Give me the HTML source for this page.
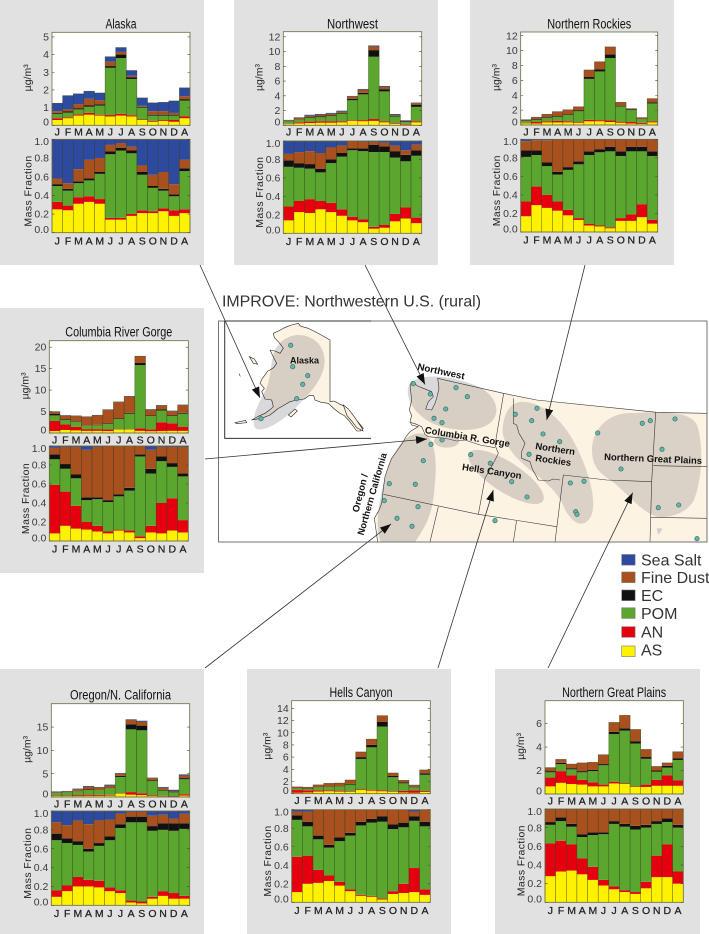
<!DOCTYPE html>
<html lang="en">
<head>
<meta charset="utf-8">
<title>IMPROVE: Northwestern U.S. (rural)</title>
<style>
html,body{margin:0;padding:0;background:#fff;width:709px;height:934px;overflow:hidden}
svg{display:block}
text{font-family:"Liberation Sans",sans-serif}
.m{font-weight:bold;font-size:9.5px;fill:#111}
.lg{font-size:16px;fill:#333}
</style>
</head>
<body>
<svg id="fig" xmlns="http://www.w3.org/2000/svg" width="709" height="934" viewBox="0 0 709 934">
<defs>
<marker id="ah" markerUnits="userSpaceOnUse" markerWidth="12" markerHeight="9" refX="11" refY="4" orient="auto"><path d="M0,0 L11,4 L0,8 Z" fill="#111"/></marker>
</defs>
<g id="panels"></g>

<text x="222" y="306.5" font-size="16" fill="#333" textLength="259" lengthAdjust="spacingAndGlyphs">IMPROVE: Northwestern U.S. (rural)</text>

<g>
<rect x="218.5" y="321" width="488.5" height="221" fill="#fff"/>
<g transform="translate(215 285) scale(.33333)">
<path fill="#fdf3e2" d="M668,280 L865,325 L965,345 L1325,382 L1475,385 L1475,771 L488,771 L483,735 L478,700 L490,680 L500,655 L503,630 L505,610 L510,575 L520,545 L530,520 L548,495 L565,470 L575,452 L585,440 L610,425 L590,420 L585,410 L590,392 L583,375 L590,345 L585,300 L590,290 L608,303 L625,310 L650,320 L655,335 L640,350 L632,372 L650,375 L660,355 L665,340 L672,310 Z"/>
<path fill="none" stroke="#333" stroke-width="1.8" stroke-linejoin="round" d="M488,771 L483,735 L478,700 L490,680 L500,655 L503,630 L505,610 L510,575 L520,545 L530,520 L548,495 L565,470 L575,452 L585,440 L610,425 L590,420 L585,410 L590,392 L583,375 L590,345 L585,300 L590,290 L608,303 L625,310 L650,320 L655,335 L640,350 L632,372 L650,375 L660,355 L665,340 L672,310 L668,280 L865,325 L965,345 L1325,382 L1475,385"/>
<path fill="#fdf3e2" stroke="#222" stroke-width="1.8" stroke-linejoin="round" d="M175,145 L190,138 L205,130 L218,124 L230,120 L250,115 L255,122 L262,125 L280,130 L300,140 L322,152 L345,165 L345,350 L356,348 L365,352 L375,358 L385,362 L398,378 L415,395 L430,412 L445,430 L436,438 L425,438 L412,420 L400,405 L388,392 L375,385 L358,372 L340,355 L318,352 L300,345 L296,332 L282,332 L268,342 L245,345 L225,350 L205,362 L190,370 L178,380 L165,390 L140,400 L110,405 L130,394 L150,385 L165,374 L175,365 L170,345 L150,342 L140,320 L148,310 L135,295 L142,280 L150,270 L158,258 L165,255 L176,248 L185,235 L178,222 L165,195 L180,198 L195,205 L205,190 L198,180 L190,170 L178,158 Z"/>
<path fill="#fdf3e2" stroke="#222" stroke-width="1.8" d="M103,215 L118,222 L128,238 L115,235 Z M72,266 L76,274 M60,413 L92,406 L95,413 L65,416 Z M220,390 L240,372 L247,378 L228,396 Z M385,360 L400,372 L420,398 L440,428 L444,438 L425,428 L410,408 L396,392 Z"/>
<g fill="#1e1e32" fill-opacity=".17">
<path d="M250,150 C300,150 335,190 328,240 C320,290 280,330 240,370 C200,410 150,440 125,432 C105,420 120,370 150,320 C170,280 165,230 180,195 C195,165 225,150 250,150 Z"/>
<path d="M600,285 C640,265 720,275 790,305 C840,330 860,375 830,410 C800,440 730,440 680,425 C640,415 600,385 585,350 C572,320 578,295 600,285 Z"/>
<path d="M615,445 C655,445 668,510 660,590 C655,660 650,700 600,771 L497,771 C480,720 490,660 505,600 C520,530 555,445 615,445 Z"/>
<ellipse cx="695" cy="468" rx="38" ry="20"/>
<ellipse cx="873" cy="576" rx="132" ry="45" transform="rotate(33 873 576)"/>
</g>
<path fill="none" stroke="#3a3a3a" stroke-width="1.8" stroke-linejoin="round" d="M866,325 L840,480 L850,505 L835,535 L810,580 L790,688 M585,412 L600,416 L620,425 L630,448 L640,455 L670,458 L700,462 L725,468 L750,465 L795,480 L840,488 M505,628 L790,688 L1025,725 M670,665 L645,771 M905,705 L895,771 M895,340 L895,415 L905,420 L912,445 L930,475 L920,500 L920,520 L945,530 L952,552 L970,585 L1000,588 L1015,582 L1035,585 M1045,570 L1020,771 M1045,570 L1175,585 L1310,590 M1322,383 L1310,590 L1305,771 M1315,542 L1475,545 M1307,697 L1475,700"/>
<path d="M1325,730 L1343,730 L1330,750 Z" fill="#cfcfd0"/>
</g>
<g transform="translate(0 0)" fill="#1e1e32" fill-opacity=".15">
<path d="M520,402 C540,400 565,420 578,450 C590,475 598,505 590,518 C582,530 570,522 563,505 C556,490 545,482 530,470 C512,455 500,440 503,425 C505,410 512,403 520,402 Z"/>
<path d="M592,450 C592,428 610,412 632,413 C660,412 690,410 697,425 C704,445 702,480 694,500 C688,512 672,518 658,517 C640,512 625,490 610,480 C598,472 592,465 592,450 Z"/>
</g>
<g id="sites"></g>
<rect x="218.5" y="321" width="488.5" height="221" fill="none" stroke="#666" stroke-width=".9"/>
<path d="M371,321 L224.7,321 L224.7,438.4 L371,438.4" fill="none" stroke="#333" stroke-width="1"/>
<text class="m" x="290" y="363.5" textLength="29" lengthAdjust="spacingAndGlyphs">Alaska</text>
<text class="m" transform="translate(417 369.5) rotate(12)" textLength="48" lengthAdjust="spacingAndGlyphs">Northwest</text>
<text class="m" transform="translate(424.5 433) rotate(9.4)" textLength="86" lengthAdjust="spacingAndGlyphs">Columbia R. Gorge</text>
<text class="m" transform="translate(461.7 470) rotate(8.6)" textLength="60" lengthAdjust="spacingAndGlyphs">Hells Canyon</text>
<text class="m" transform="translate(358.5 512.7) rotate(-76)" textLength="39" lengthAdjust="spacingAndGlyphs">Oregon /</text>
<text class="m" transform="translate(363.5 535.7) rotate(-74)" textLength="85" lengthAdjust="spacingAndGlyphs">Northern California</text>
<text class="m" transform="translate(535 449) rotate(8.7)" textLength="40" lengthAdjust="spacingAndGlyphs">Northern</text>
<text class="m" transform="translate(535 461) rotate(8)" textLength="36" lengthAdjust="spacingAndGlyphs">Rockies</text>
<text class="m" transform="translate(604 460) rotate(2.3)" textLength="98" lengthAdjust="spacingAndGlyphs">Northern Great Plains</text>
</g>

<g stroke="#333" stroke-width=".8" fill="none">
<line x1="200" y1="265" x2="260" y2="398" marker-end="url(#ah)"/>
<line x1="365" y1="265" x2="425" y2="384.5" marker-end="url(#ah)"/>
<line x1="585" y1="265" x2="546.7" y2="420" marker-end="url(#ah)"/>
<line x1="205" y1="459" x2="427" y2="439" marker-end="url(#ah)"/>
<line x1="205" y1="668" x2="391" y2="524" marker-end="url(#ah)"/>
<line x1="438" y1="668" x2="493.3" y2="490" marker-end="url(#ah)"/>
<line x1="548" y1="668" x2="632.7" y2="492.7" marker-end="url(#ah)"/>
</g>

<g>
<g><rect x="621.7" y="554.5" width="13.4" height="10.6" fill="#2e4a9e" stroke="#777" stroke-width=".6"/><text class="lg" x="641" y="565.7">Sea Salt</text></g>
<g><rect x="621.7" y="572" width="13.4" height="10.6" fill="#a8501e" stroke="#777" stroke-width=".6"/><text class="lg" x="641" y="583">Fine Dust</text></g>
<g><rect x="621.7" y="590" width="13.4" height="10.6" fill="#111" stroke="#777" stroke-width=".6"/><text class="lg" x="641" y="601">EC</text></g>
<g><rect x="621.7" y="607.8" width="13.4" height="10.6" fill="#5aa62e" stroke="#777" stroke-width=".6"/><text class="lg" x="641" y="619">POM</text></g>
<g><rect x="621.7" y="626.7" width="13.4" height="10.6" fill="#e6000f" stroke="#777" stroke-width=".6"/><text class="lg" x="641" y="637.3">AN</text></g>
<g><rect x="621.7" y="646" width="13.4" height="10.6" fill="#fff200" stroke="#777" stroke-width=".6"/><text class="lg" x="641" y="655.7">AS</text></g>
</g>
</svg>

<script>
// Shared categories and tick labels
const months = ['J','F','M','A','M','J','J','A','S','O','N','D','A'];
const fractionTicks = [0,0.2,0.4,0.6,0.8,1];

// Every series below is the stack top (cumulative, in AS → sea salt order).
// Alaska
const alaskaTicks = [0,1,2,3,4,5];
const alaskaConcAS = [.3,.4,.55,.6,.55,.5,.55,.5,.3,.2,.25,.2,.4];
const alaskaConcAN = [.4,.45,.62,.7,.6,.58,.65,.57,.33,.25,.3,.3,.5];
const alaskaConcPOM = [.65,.72,.9,1.05,1.12,3.25,3.8,2.62,1,.55,.55,.55,1.4];
const alaskaConcEC = [.7,.78,.95,1.12,1.18,3.35,4,2.72,1.05,.6,.6,.6,1.48];
const alaskaConcDust = [.8,.9,1.2,1.5,1.42,3.6,4.15,2.8,1.1,.8,.8,.7,1.65];
const alaskaConcSalt = [1.25,1.68,1.78,1.93,1.83,3.88,4.4,3.1,1.55,1.27,1.3,1.38,2.12];
const alaskaFracAS = [.25,.24,.31,.33,.31,.14,.14,.18,.21,.21,.23,.18,.21];
const alaskaFracAN = [.33,.29,.38,.39,.36,.16,.16,.2,.24,.23,.26,.24,.25];
const alaskaFracPOM = [.5,.45,.53,.56,.63,.84,.88,.85,.62,.48,.45,.39,.66];
const alaskaFracEC = [.52,.47,.55,.58,.65,.87,.91,.88,.65,.5,.47,.41,.69];
const alaskaFracDust = [.58,.53,.68,.78,.8,.94,.96,.92,.72,.62,.65,.52,.78];
const alaskaFracSalt = [1,1,1,1,1,1,1,1,1,1,1,1,1];

// Northwest
const northwestTicks = [0,2,4,6,8,10,12];
const northwestConcAS = [.15,.25,.3,.35,.35,.4,.6,.55,.6,.4,.2,.1,.4];
const northwestConcAN = [.2,.4,.5,.55,.55,.55,.7,.7,.85,.55,.3,.2,.55];
const northwestConcPOM = [.55,.75,1,1.1,1.25,1.6,3.4,4.2,9.3,4.6,1.2,.45,2.5];
const northwestConcEC = [.6,.8,1.1,1.2,1.35,1.7,3.6,4.4,10.2,4.9,1.3,.55,2.8];
const northwestConcDust = [.65,1,1.3,1.4,1.55,1.85,3.9,4.8,10.7,5.2,1.4,.6,3];
const northwestConcSalt = [.7,1.05,1.4,1.5,1.65,1.95,3.95,4.9,10.8,5.3,1.5,.65,3.05];
const northwestFracAS = [.14,.23,.22,.26,.23,.19,.14,.12,.05,.06,.13,.16,.11];
const northwestFracAN = [.29,.35,.37,.35,.33,.26,.18,.15,.07,.09,.21,.28,.17];
const northwestFracPOM = [.72,.71,.7,.66,.76,.83,.9,.89,.88,.88,.82,.78,.84];
const northwestFracEC = [.79,.76,.75,.7,.8,.87,.92,.92,.96,.94,.89,.85,.9];
const northwestFracDust = [.86,.88,.89,.87,.93,.95,1,.99,.99,.98,.95,.9,.96];
const northwestFracSalt = [1,1,1,1,1,1,1,1,1,1,1,1,1];

// Northern Rockies
const rockiesTicks = [0,2,4,6,8,10,12];
const rockiesConcAS = [.2,.2,.35,.35,.35,.3,.5,.5,.4,.3,.2,.15,.35];
const rockiesConcAN = [.25,.4,.5,.55,.5,.4,.7,.65,.6,.45,.4,.3,.5];
const rockiesConcPOM = [.55,.7,.95,1.1,1.35,1.85,6.2,7.2,9,2.5,2,.8,2.9];
const rockiesConcEC = [.6,.8,1.05,1.2,1.45,1.95,6.45,7.5,9.5,2.6,2.1,.85,3.05];
const rockiesConcDust = [.7,1.05,1.45,1.8,2.05,2.45,7.4,8.5,10.5,3.05,2.2,1,3.55];
const rockiesConcSalt = [.72,1.05,1.45,1.8,2.05,2.45,7.4,8.5,10.5,3.05,2.2,1,3.55];
const rockiesFracAS = [.17,.29,.26,.23,.18,.13,.07,.06,.04,.12,.12,.16,.09];
const rockiesFracAN = [.33,.49,.4,.33,.24,.15,.09,.07,.05,.15,.19,.3,.13];
const rockiesFracPOM = [.81,.83,.71,.62,.67,.73,.83,.86,.87,.82,.87,.87,.82];
const rockiesFracEC = [.88,.88,.75,.65,.7,.76,.87,.89,.92,.87,.92,.92,.87];
const rockiesFracDust = [.98,.99,.99,1,1,1,1,1,1,1,1,1,1];
const rockiesFracSalt = [1,1,1,1,1,1,1,1,1,1,1,1,1];

// Columbia River Gorge
const gorgeTicks = [0,5,10,15,20];
const gorgeConcAS = [.45,.7,.6,.5,.5,.45,.8,.8,.5,.4,.45,.5,.5];
const gorgeConcAN = [2.8,2,1.45,.9,.9,.85,.9,.9,1.1,.85,2.5,2.25,1.4];
const gorgeConcPOM = [4.1,3,2.6,1.7,1.8,2.1,3.25,4.5,15.8,3.95,5.25,3.95,4.5];
const gorgeConcEC = [4.5,3.2,2.75,1.8,1.9,2.2,3.4,4.7,16.3,4.1,5.5,4.1,4.7];
const gorgeConcDust = [4.95,4.05,3.95,3.75,4.1,5.4,7.2,8.5,17.9,5.4,6.4,5.1,6.5];
const gorgeConcSalt = [5,4.1,4,3.8,4.15,5.45,7.25,8.55,17.9,5.5,6.45,5.15,6.55];
const gorgeFracAS = [.08,.16,.13,.12,.1,.08,.11,.09,.03,.09,.08,.11,.09];
const gorgeFracAN = [.59,.52,.37,.2,.16,.1,.12,.11,.05,.16,.4,.45,.22];
const gorgeFracPOM = [.86,.76,.66,.43,.44,.41,.47,.53,.89,.71,.84,.78,.68];
const gorgeFracEC = [.91,.81,.7,.46,.46,.43,.49,.56,.91,.76,.89,.82,.71];
const gorgeFracDust = [.98,.99,.99,.96,.99,1,1,1,1,.96,.99,.99,.99];
const gorgeFracSalt = [1,1,1,1,1,1,1,1,1,1,1,1,1];

// Oregon / N. California
const oregonTicks = [0,5,10,15];
const oregonConcAS = [.2,.2,.2,.25,.25,.3,.7,.5,.4,.2,.15,.1,.3];
const oregonConcAN = [.3,.3,.4,.5,.45,.45,.8,1.05,.8,.35,.25,.2,.6];
const oregonConcPOM = [.9,1,1.25,1.5,1.5,1.9,4.3,14.5,14.3,3.4,1.4,1,3.8];
const oregonConcEC = [1,1.05,1.3,1.6,1.55,2,4.55,15.6,15.3,3.55,1.55,1.15,4.05];
const oregonConcDust = [1.1,1.15,1.65,2.15,2,2.45,5,16.5,16.1,4,1.95,1.3,4.6];
const oregonConcSalt = [1.15,1.25,1.75,2.3,2.1,2.6,5.1,16.6,16.3,4.1,2.1,1.5,4.8];
const oregonFracAS = [.09,.15,.2,.2,.19,.15,.13,.03,.02,.07,.1,.07,.07];
const oregonFracAN = [.16,.21,.3,.27,.26,.19,.16,.05,.04,.09,.15,.13,.1];
const oregonFracPOM = [.69,.66,.64,.57,.63,.69,.82,.88,.88,.79,.8,.79,.81];
const oregonFracEC = [.76,.71,.68,.6,.66,.73,.86,.94,.94,.84,.87,.87,.87];
const oregonFracDust = [.88,.85,.9,.86,.9,.91,.97,.99,.99,.95,.96,.92,.97];
const oregonFracSalt = [1,1,1,1,1,1,1,1,1,1,1,1,1];

// Hells Canyon
const hellsTicks = [0,2,4,6,8,10,12,14];
const hellsConcAS = [.15,.2,.35,.4,.35,.3,.6,.5,.4,.3,.2,.15,.3];
const hellsConcAN = [.6,.55,.55,.55,.5,.4,.7,.65,.55,.4,.45,.55,.45];
const hellsConcPOM = [.85,.8,1,1.1,1.2,1.5,5.7,7.6,11,2.7,1.7,1.05,3.1];
const hellsConcEC = [.9,.85,1.05,1.15,1.25,1.6,6,8,11.8,2.9,1.85,1.15,3.35];
const hellsConcDust = [1.1,1.05,1.45,1.7,1.75,2.25,6.85,8.95,12.8,3.4,2.2,1.4,3.9];
const hellsConcSalt = [1.12,1.07,1.45,1.7,1.75,2.25,6.85,8.95,12.8,3.4,2.2,1.42,3.9];
const hellsFracAS = [.11,.2,.21,.23,.18,.12,.07,.06,.03,.09,.1,.11,.08];
const hellsFracAN = [.49,.5,.35,.29,.22,.14,.08,.07,.04,.12,.2,.37,.14];
const hellsFracPOM = [.89,.82,.68,.59,.66,.72,.83,.86,.87,.79,.81,.88,.82];
const hellsFracEC = [.94,.87,.72,.62,.7,.75,.87,.9,.93,.84,.86,.93,.87];
const hellsFracDust = [.98,.98,1,1,1,1,1,1,1,1,1,.98,1];
const hellsFracSalt = [1,1,1,1,1,1,1,1,1,1,1,1,1];

// Northern Great Plains
const plainsTicks = [0,2,4,6];
const plainsConcAS = [.65,.95,.85,.8,.65,.65,.9,.85,.6,.6,.7,.7,.7];
const plainsConcAN = [1.4,1.95,1.6,1.2,1,.8,1.05,.9,.65,.8,1.2,1.6,1.15];
const plainsConcPOM = [1.85,2.55,2.1,1.85,1.95,2.45,5.1,5.4,4.3,3,1.9,2.25,2.9];
const plainsConcEC = [1.95,2.65,2.2,1.95,2.05,2.55,5.3,5.6,4.5,3.15,2,2.4,3.05];
const plainsConcDust = [2.25,2.95,2.55,2.65,2.7,3.35,6.1,6.7,5.5,3.8,2.35,2.65,3.6];
const plainsConcSalt = [2.25,2.95,2.55,2.65,2.7,3.35,6.1,6.7,5.5,3.8,2.35,2.65,3.6];
const plainsFracAS = [.28,.33,.34,.3,.24,.18,.14,.11,.09,.15,.27,.27,.2];
const plainsFracAN = [.63,.66,.62,.47,.38,.24,.17,.13,.11,.22,.5,.62,.33];
const plainsFracPOM = [.83,.87,.81,.7,.72,.73,.84,.81,.78,.8,.84,.86,.8];
const plainsFracEC = [.86,.91,.84,.73,.75,.75,.87,.84,.82,.83,.87,.9,.83];
const plainsFracDust = [1,1,1,1,1,1,1,1,1,1,1,1,1];
const plainsFracSalt = [1,1,1,1,1,1,1,1,1,1,1,1,1];

const speciesNames = ['as','an','pom','ec','fine-dust','sea-salt'];
const speciesColors = ['#fff200','#e6000f','#5aa62e','#111111','#a8501e','#2e4a9e'];

const NS = 'http://www.w3.org/2000/svg';
function mk(parent, tag, attrs, txt) {
  const el = document.createElementNS(NS, tag);
  for (const k in attrs) el.setAttribute(k, attrs[k]);
  if (txt !== undefined) el.textContent = txt;
  parent.appendChild(el);
  return el;
}

function drawStack(g, L, R, T, B, yMax, stacks, ticks, isFrac, slug) {
  const band = (R - L) / months.length;
  const xOf = i => L + i * band;
  const yOf = v => B - (v / yMax) * (B - T);
  const frame = mk(g, 'rect', {x: L, y: T, width: R - L, height: B - T, fill: '#fff'});
  
  
  months.forEach((mLabel, i) => {
    let prev = 0;
    stacks.forEach((series, s) => {
      const v = series[i];
      const y0 = yOf(prev), y1 = yOf(v);
      const seg = mk(g, 'rect', {x: xOf(i), y: Math.min(y0, y1), width: band, height: Math.abs(y0 - y1), fill: speciesColors[s]});
      
      
      prev = v;
    });
    const outline = mk(g, 'rect', {x: xOf(i), y: yOf(prev), width: band, height: B - yOf(prev), fill: 'none', stroke: '#2c3a18', 'stroke-width': .5, 'stroke-opacity': .7});
    
    
    const lab = mk(g, 'text', {x: xOf(i) + band / 2, y: B + (isFrac ? 11.7 : 10.3), 'text-anchor': 'middle', 'font-size': 10.5, fill: '#222', stroke: '#222', 'stroke-width': .25}, mLabel);
    
    
  });
  const border = mk(g, 'rect', {x: L, y: T, width: R - L, height: B - T, fill: 'none', stroke: '#6c6c40', 'stroke-width': .8});
  
  
  ticks.forEach(t => {
    const y = yOf(t);
    const tk = mk(g, 'path', {d: 'M' + L + ',' + y + 'h2.5M' + R + ',' + y + 'h-2.5', stroke: '#444', 'stroke-width': .6, fill: 'none'});
    
    
    let nudge = 3.6;
    if (t === 0) nudge = 0.4;
    if (isFrac && t === 1) nudge = 5.9;
    const tl = mk(g, 'text', {x: L - 3, y: y + nudge, 'text-anchor': 'end', 'font-size': 10.5, fill: '#3a3a3a'}, isFrac ? t.toFixed(1) : String(t));
    
    
  });
}

function drawRegion(slug, title, titleLen, titleY, p, L, R, top, low, yMax, ticks, conc, frac) {
  const host = document.getElementById('panels');
  const g = mk(host, 'g', {});
  
  
  const bg = mk(g, 'rect', {x: p[0], y: p[1], width: p[2], height: p[3], fill: '#e1e1e2'});
  
  
  const tt = mk(g, 'text', {x: (L + R) / 2, y: titleY, 'text-anchor': 'middle', 'font-size': 13.5, fill: '#111', textLength: titleLen, lengthAdjust: 'spacingAndGlyphs'}, title);
  
  
  drawStack(g, L, R, top[0], top[1], yMax, conc, ticks, false, slug + '-concentration');
  drawStack(g, L, R, low[0], low[1], 1, frac, fractionTicks, true, slug + '-fraction');
  const yc = (top[0] + top[1]) / 2 - 1;
  const ya = mk(g, 'text', {transform: 'translate(' + (L - 21) + ' ' + yc + ') rotate(-90)', 'text-anchor': 'middle', 'font-size': 10.5, fill: '#222'}, 'µg/m³');
  
  
  const ym = (low[0] + low[1]) / 2 + 5;
  const yb = mk(g, 'text', {transform: 'translate(' + (L - 20.5) + ' ' + ym + ') rotate(-90)', 'text-anchor': 'middle', 'font-size': 10.5, fill: '#222', 'letter-spacing': .4}, 'Mass Fraction');
  
  
}

drawRegion('alaska','Alaska',31,28.3,[0,0,204,265],52,190,[32.3,125.3],[139.3,232.7],5.26,alaskaTicks,
  [alaskaConcAS,alaskaConcAN,alaskaConcPOM,alaskaConcEC,alaskaConcDust,alaskaConcSalt],
  [alaskaFracAS,alaskaFracAN,alaskaFracPOM,alaskaFracEC,alaskaFracDust,alaskaFracSalt]);
drawRegion('northwest','Northwest',51,28.3,[234,0,204,265],283.3,421.7,[31.7,125.3],[141,233.3],12.7,northwestTicks,
  [northwestConcAS,northwestConcAN,northwestConcPOM,northwestConcEC,northwestConcDust,northwestConcSalt],
  [northwestFracAS,northwestFracAN,northwestFracPOM,northwestFracEC,northwestFracDust,northwestFracSalt]);
drawRegion('northern-rockies','Northern Rockies',84,28.3,[470,0,204,265],520.7,657.7,[32,125],[139.3,232],12.5,rockiesTicks,
  [rockiesConcAS,rockiesConcAN,rockiesConcPOM,rockiesConcEC,rockiesConcDust,rockiesConcSalt],
  [rockiesFracAS,rockiesFracAN,rockiesFracPOM,rockiesFracEC,rockiesFracDust,rockiesFracSalt]);
drawRegion('columbia-river-gorge','Columbia River Gorge',107,336.3,[0,308,204,265],49.3,188.3,[340.7,433],[446,541],21.5,gorgeTicks,
  [gorgeConcAS,gorgeConcAN,gorgeConcPOM,gorgeConcEC,gorgeConcDust,gorgeConcSalt],
  [gorgeFracAS,gorgeFracAN,gorgeFracPOM,gorgeFracEC,gorgeFracDust,gorgeFracSalt]);
drawRegion('oregon-n-california','Oregon/N. California',101,699.7,[0,669,204,265],51.3,189.7,[703.7,797],[811,905.3],20,oregonTicks,
  [oregonConcAS,oregonConcAN,oregonConcPOM,oregonConcEC,oregonConcDust,oregonConcSalt],
  [oregonFracAS,oregonFracAN,oregonFracPOM,oregonFracEC,oregonFracDust,oregonFracSalt]);
drawRegion('hells-canyon','Hells Canyon',63,697,[247,669,204,265],291.7,430.3,[700.7,793.7],[809.7,902.3],15.25,hellsTicks,
  [hellsConcAS,hellsConcAN,hellsConcPOM,hellsConcEC,hellsConcDust,hellsConcSalt],
  [hellsFracAS,hellsFracAN,hellsFracPOM,hellsFracEC,hellsFracDust,hellsFracSalt]);
drawRegion('northern-great-plains','Northern Great Plains',104,697,[495,669,205,265],545,683.3,[700.7,794],[809,902.3],7.95,plainsTicks,
  [plainsConcAS,plainsConcAN,plainsConcPOM,plainsConcEC,plainsConcDust,plainsConcSalt],
  [plainsFracAS,plainsFracAN,plainsFracPOM,plainsFracEC,plainsFracDust,plainsFracSalt]);

// Map site markers
const siteX = [290.7,292.7,307.7,302.7,296.7,261,413.3,430.3,456,467.3,445.7,434,442,431,442,423.3,389.3,415.3,384.3,418,397,412,470.7,537,515.3,531.7,543,559.7,529,490.3,511.7,527,495,570.3,584,575.7,577,597.7,642.3,650.3,675,662,621,658.3,678.7,697];
const siteY = [345.3,366.7,375.7,384.3,398.7,418.7,383.7,394,387.7,396.7,409,418.3,422.7,444.3,440,460.7,483.7,484.3,500.7,506.7,518.3,526.3,454.7,408.3,414.3,420.7,434,441.7,454.3,463.3,481.7,497,520.7,483,481.3,511.7,514.3,433,423.3,420.7,419,449.3,469,507.7,505,538.7];
const siteHost = document.getElementById('sites');
siteX.forEach((sx, i) => {
  const dot = mk(siteHost, 'circle', {cx: sx, cy: siteY[i], r: 2.2, fill: '#62b6a8', stroke: '#3d6f6a', 'stroke-width': .7});
  
  
});
</script>
</body>
</html>
